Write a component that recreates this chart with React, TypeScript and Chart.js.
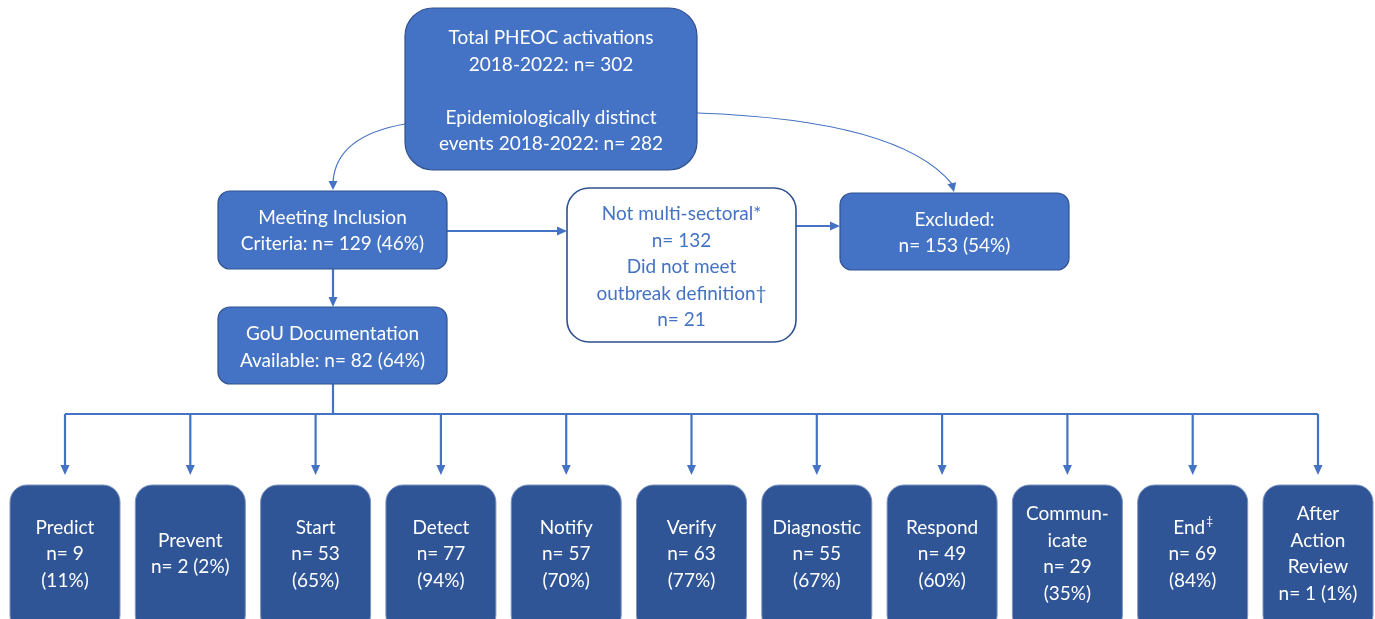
import React, { useEffect, useRef } from 'react';
import { Chart, registerables } from 'chart.js';

Chart.register(...registerables);

// ---------- data ----------
const totalActivations = 302;
const distinctEvents = 282;
const includedCount = 129;
const includedPct = 46;
const notMultiSectoralCount = 132;
const notOutbreakCount = 21;
const excludedCount = 153;
const excludedPct = 54;
const gouDocCount = 82;
const gouDocPct = 64;

const stageNames = ['Predict', 'Prevent', 'Start', 'Detect', 'Notify', 'Verify', 'Diagnostic', 'Respond', 'Communicate', 'End', 'After Action Review'];
const stageCounts = [9, 2, 53, 77, 57, 63, 55, 49, 29, 69, 1];
const stagePercents = [11, 2, 65, 94, 70, 77, 67, 60, 35, 84, 1];

// ---------- layout (positions / styles) ----------
const stageNameLines: string[][] = [
  ['Predict'], ['Prevent'], ['Start'], ['Detect'], ['Notify'], ['Verify'],
  ['Diagnostic'], ['Respond'], ['Commun-', 'icate'], ['End^‡'], ['After', 'Action', 'Review'],
];
const stageInline = [false, true, false, false, false, false, false, false, false, false, true];
const stageX0 = 65;
const stageStep = 125.3;
const stageHalfW = 55;
const stageTop = 485;
const stageBottom = 632;
const busY = 414;
const arrowTipY = 475;

const FONT = 'Lato, "Open Sans", sans-serif';
const FS = 19;
const LH = 26.5;
const BLUE = '#4472C4';
const BLUE_STROKE = '#2F528F';
const DARK = '#2F5597';
const LINE = '#4472C4';

type Node = { x0: number; y0: number; x1: number; y1: number; r: number; fill: string; stroke: string; color: string; lines: string[]; cy: number };

const nodes: Record<string, Node> = {
  total: {
    x0: 405, y0: 8, x1: 697, y1: 170, r: 28, fill: BLUE, stroke: BLUE_STROKE, color: '#ffffff', cy: 91,
    lines: ['Total PHEOC activations', `2018-2022: n= ${totalActivations}`, '', 'Epidemiologically distinct', `events 2018-2022: n= ${distinctEvents}`],
  },
  incl: {
    x0: 218, y0: 191, x1: 447, y1: 269, r: 12, fill: BLUE, stroke: BLUE_STROKE, color: '#ffffff', cy: 231,
    lines: ['Meeting Inclusion', `Criteria: n= ${includedCount} (${includedPct}%)`],
  },
  notms: {
    x0: 567, y0: 188, x1: 796, y1: 342, r: 22, fill: '#ffffff', stroke: BLUE_STROKE, color: BLUE, cy: 267,
    lines: ['Not multi-sectoral*', `n= ${notMultiSectoralCount}`, 'Did not meet', 'outbreak definition†', `n= ${notOutbreakCount}`],
  },
  excl: {
    x0: 840, y0: 193, x1: 1069, y1: 270, r: 12, fill: BLUE, stroke: BLUE_STROKE, color: '#ffffff', cy: 233,
    lines: ['Excluded:', `n= ${excludedCount} (${excludedPct}%)`],
  },
  gou: {
    x0: 218, y0: 307, x1: 447, y1: 384, r: 12, fill: BLUE, stroke: BLUE_STROKE, color: '#ffffff', cy: 347.5,
    lines: ['GoU Documentation', `Available: n= ${gouDocCount} (${gouDocPct}%)`],
  },
};

function roundRect(ctx: CanvasRenderingContext2D, x0: number, y0: number, x1: number, y1: number, r: number) {
  ctx.beginPath();
  ctx.moveTo(x0 + r, y0);
  ctx.lineTo(x1 - r, y0);
  ctx.arcTo(x1, y0, x1, y0 + r, r);
  ctx.lineTo(x1, y1 - r);
  ctx.arcTo(x1, y1, x1 - r, y1, r);
  ctx.lineTo(x0 + r, y1);
  ctx.arcTo(x0, y1, x0, y1 - r, r);
  ctx.lineTo(x0, y0 + r);
  ctx.arcTo(x0, y0, x0 + r, y0, r);
  ctx.closePath();
}

function arrowHead(ctx: CanvasRenderingContext2D, tx: number, ty: number, angle: number, len: number, half: number) {
  ctx.save();
  ctx.translate(tx, ty);
  ctx.rotate(angle);
  ctx.beginPath();
  ctx.moveTo(0, 0);
  ctx.lineTo(-len, -half);
  ctx.lineTo(-len, half);
  ctx.closePath();
  ctx.fill();
  ctx.restore();
}

function drawLines(ctx: CanvasRenderingContext2D, lines: string[], cx: number, cy: number, color: string) {
  ctx.fillStyle = color;
  ctx.textBaseline = 'middle';
  const n = lines.length;
  lines.forEach((line, i) => {
    const y = cy + (i - (n - 1) / 2) * LH;
    if (!line) return;
    const parts = line.split('^');
    ctx.font = `${FS}px ${FONT}`;
    const w0 = ctx.measureText(parts[0]).width;
    let w1 = 0;
    if (parts[1]) {
      ctx.font = `${FS * 0.62}px ${FONT}`;
      w1 = ctx.measureText(parts[1]).width;
    }
    const start = cx - (w0 + w1) / 2;
    ctx.textAlign = 'left';
    ctx.font = `${FS}px ${FONT}`;
    ctx.fillText(parts[0], start, y);
    if (parts[1]) {
      ctx.font = `${FS * 0.62}px ${FONT}`;
      ctx.fillText(parts[1], start + w0 + 1, y - 6);
    }
  });
}

const flowPlugin = {
  id: 'flowPlugin',
  afterDraw(chart: any) {
    const ctx: CanvasRenderingContext2D = chart.ctx;
    const xs = chart.scales.x;
    const ys = chart.scales.y;
    const X = (v: number) => xs.getPixelForValue(v);
    const Y = (v: number) => ys.getPixelForValue(v);
    ctx.save();
    ctx.fillStyle = '#ffffff';
    ctx.fillRect(0, 0, chart.width, chart.height);

    // connectors
    ctx.strokeStyle = LINE;
    ctx.fillStyle = LINE;
    ctx.lineCap = 'butt';

    // thin curved arrows
    ctx.lineWidth = 1.2;
    ctx.beginPath();
    ctx.moveTo(X(405), Y(124));
    ctx.quadraticCurveTo(X(336), Y(136), X(333), Y(182));
    ctx.stroke();
    arrowHead(ctx, X(333), Y(190), Math.PI / 2, 9, 4.5);

    ctx.beginPath();
    ctx.moveTo(X(697), Y(113));
    ctx.quadraticCurveTo(X(900), Y(120), X(952), Y(184));
    ctx.stroke();
    arrowHead(ctx, X(954), Y(192), Math.atan2(8, 2), 9, 4.5);

    // straight thick arrows
    ctx.lineWidth = 2.2;
    const seg = (x1: number, y1: number, x2: number, y2: number) => {
      ctx.beginPath();
      ctx.moveTo(X(x1), Y(y1));
      ctx.lineTo(X(x2), Y(y2));
      ctx.stroke();
    };
    seg(447, 231, 558, 231);
    arrowHead(ctx, X(567), Y(231), 0, 10, 4.5);
    seg(796, 226, 831, 226);
    arrowHead(ctx, X(840), Y(226), 0, 10, 4.5);
    seg(333, 269, 333, 298);
    arrowHead(ctx, X(333), Y(307), Math.PI / 2, 10, 4.5);
    seg(333, 384, 333, busY);
    const firstX = stageX0;
    const lastX = stageX0 + (stageNames.length - 1) * stageStep;
    seg(firstX, busY, lastX, busY);
    stageNames.forEach((_, i) => {
      const cx = stageX0 + i * stageStep;
      seg(cx, busY, cx, arrowTipY - 9);
      arrowHead(ctx, X(cx), Y(arrowTipY), Math.PI / 2, 10, 4.5);
    });

    // upper nodes
    Object.values(nodes).forEach((nd) => {
      roundRect(ctx, X(nd.x0), Y(nd.y0), X(nd.x1), Y(nd.y1), nd.r);
      ctx.fillStyle = nd.fill;
      ctx.fill();
      ctx.lineWidth = nd.fill === '#ffffff' ? 1.6 : 1.2;
      ctx.strokeStyle = nd.stroke;
      ctx.stroke();
      drawLines(ctx, nd.lines, X((nd.x0 + nd.x1) / 2), Y(nd.cy), nd.color);
    });

    // stage boxes
    stageNames.forEach((_, i) => {
      const cx = stageX0 + i * stageStep;
      roundRect(ctx, X(cx - stageHalfW), Y(stageTop), X(cx + stageHalfW), Y(stageBottom), 17);
      ctx.fillStyle = DARK;
      ctx.fill();
      ctx.lineWidth = 1;
      ctx.strokeStyle = '#7f95c0';
      ctx.stroke();
      const lines = [...stageNameLines[i]];
      if (stageInline[i]) {
        lines.push(`n= ${stageCounts[i]} (${stagePercents[i]}%)`);
      } else {
        lines.push(`n= ${stageCounts[i]}`);
        lines.push(`(${stagePercents[i]}%)`);
      }
      drawLines(ctx, lines, X(cx), Y(554), '#ffffff');
    });
    ctx.restore();
  },
};

export default function App() {
  const ref = useRef<HTMLCanvasElement | null>(null);
  useEffect(() => {
    document.body.style.margin = '0';
    const canvas = ref.current;
    if (!canvas) return;
    const chart = new Chart(canvas, {
      type: 'scatter',
      data: { datasets: [{ data: [], pointRadius: 0 }] },
      options: {
        animation: false,
        responsive: false,
        maintainAspectRatio: false,
        devicePixelRatio: 1,
        layout: { padding: 0 },
        plugins: { legend: { display: false }, tooltip: { enabled: false } },
        scales: {
          x: { type: 'linear', min: 0, max: 1375, display: false },
          y: { type: 'linear', min: 0, max: 619, reverse: true, display: false },
        },
      },
      plugins: [flowPlugin],
    });
    return () => chart.destroy();
  }, []);
  return <canvas ref={ref} width={1375} height={619} style={{ display: 'block', width: 1375, height: 619 }} />;
}
